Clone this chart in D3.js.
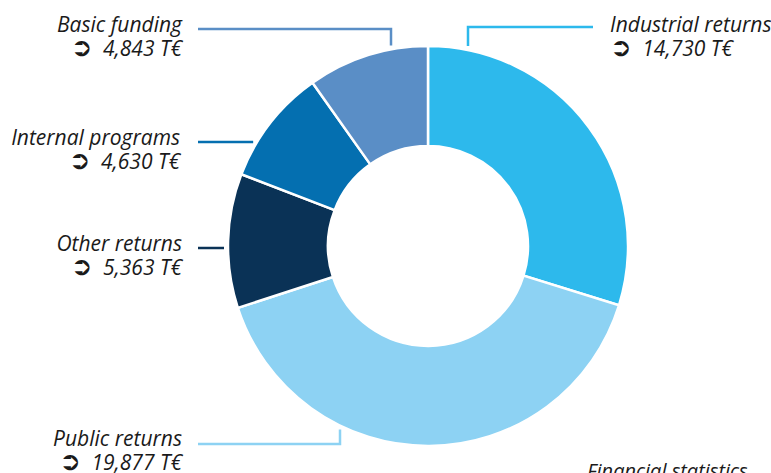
<!DOCTYPE html>
<html>
<head>
<meta charset="utf-8">
<script src="https://cdn.jsdelivr.net/npm/d3@7"></script>
<style>
  body { margin: 0; background: #fff; }
  text { font-family: "Open Sans", "DejaVu Sans", sans-serif; font-style: italic; fill: #1a1a1a; }
  .arrow { font-family: "DejaVu Sans", sans-serif; font-style: normal; font-weight: bold; }
</style>
</head>
<body>
<div id="chart"></div>
<script>
// funding sources, clockwise from 12 o'clock
var categories = ["Industrial returns", "Public returns", "Other returns", "Internal programs", "Basic funding"];
var values = [14730, 19877, 5363, 4630, 4843];
var colors = ["#2db9ec", "#8dd2f3", "#0a3256", "#046fb0", "#5a8ec6"];
var valueLabels = ["14,730 T€", "19,877 T€", "5,363 T€", "4,630 T€", "4,843 T€"];

var width = 771, height = 473;
var cx = 428, cy = 246, outerR = 200, innerR = 100, gap = 4;

// label placement: side, text anchor x, first baseline y, leader elbow
var labelLayout = [
  {side: "right", tx: 610, ty: 32, lineY: 27, lineX0: 593, dropX: 468},
  {side: "left",  tx: 182, ty: 446, lineY: 444, lineX0: 198, dropX: 340},
  {side: "left",  tx: 182, ty: 251, lineY: 248, lineX0: 198},
  {side: "left",  tx: 180, ty: 145, lineY: 142, lineX0: 198},
  {side: "left",  tx: 182, ty: 32, lineY: 29, lineX0: 198, dropX: 391}
];

var data = categories.map(function(c, i) {
  return {name: c, value: values[i], color: colors[i], label: valueLabels[i], layout: labelLayout[i]};
});

var svg = d3.select("#chart").append("svg")
    .attr("width", width)
    .attr("height", height);

var pie = d3.pie()
    .sort(null)
    .value(function(d) { return d.value; });

var arc = d3.arc()
    .innerRadius(innerR)
    .outerRadius(outerR);

var g = svg.append("g")
    .attr("transform", "translate(" + cx + "," + cy + ")");

g.selectAll("path")
  .data(pie(data))
  .enter().append("path")
    .attr("d", arc)
    .attr("fill", function(d) { return d.data.color; })
    .attr("stroke", "#fff")
    .attr("stroke-width", 2.5);

// leader lines
data.forEach(function(d) {
  var L = d.layout, pts;
  if (L.dropX !== undefined) {
    var dx = L.dropX - cx;
    var h = Math.sqrt(outerR * outerR - dx * dx);
    var yEnd = L.lineY < cy ? cy - h - gap : cy + h + gap;
    pts = [[L.lineX0, L.lineY], [L.dropX, L.lineY], [L.dropX, yEnd]];
  } else {
    var dy = L.lineY - cy;
    var xEnd = cx - Math.sqrt(outerR * outerR - dy * dy) - gap;
    pts = [[L.lineX0, L.lineY], [xEnd, L.lineY]];
  }
  svg.append("path")
    .attr("d", d3.line()(pts))
    .attr("fill", "none")
    .attr("stroke", d.color)
    .attr("stroke-width", 2.5);

  var anchor = L.side === "left" ? "end" : "start";
  svg.append("text")
    .attr("x", L.tx).attr("y", L.ty)
    .attr("text-anchor", anchor)
    .style("font-size", "21px")
    .text(d.name);
  var t = svg.append("text")
    .attr("x", L.tx).attr("y", L.ty + 24)
    .attr("text-anchor", anchor)
    .style("font-size", "21px");
  t.append("tspan").attr("class", "arrow").style("font-size", "26px").text("➲");
  t.append("tspan").text("\u2002" + d.label);
});

svg.append("text")
  .attr("x", 587).attr("y", 478)
  .style("font-size", "20px")
  .text("Financial statistics");
</script>
</body>
</html>
